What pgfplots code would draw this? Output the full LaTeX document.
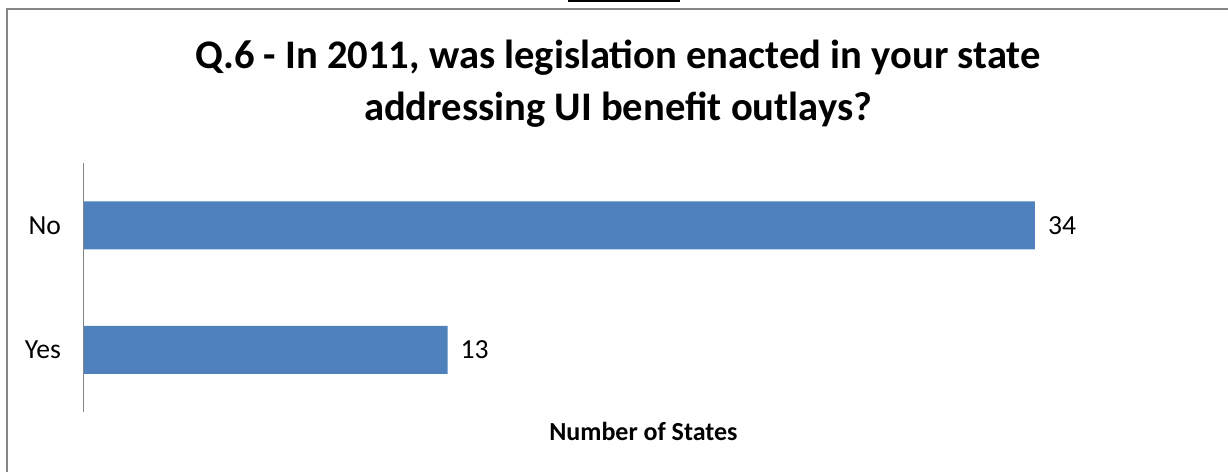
\documentclass[border=0pt]{standalone}
\usepackage{pgfplots}
\pgfplotsset{compat=1.18}
\usepackage{fontspec}
\setmainfont{Carlito}
\definecolor{barblue}{HTML}{4F81BD}
\definecolor{framegray}{HTML}{868686}
\begin{document}
\begin{tikzpicture}
\useasboundingbox (0,0) rectangle (614pt,-236pt);
\fill[black] (284pt,0) rectangle (340pt,-1pt);
\draw[framegray, line width=1pt] (3.5pt,-236pt) -- (3.5pt,-4.5pt) -- (614pt,-4.5pt);
\node[anchor=base, inner sep=0pt, font=\fontsize{20.3}{24}\selectfont\bfseries] at (309pt,-34.2pt) {Q.6 - In 2011, was legislation enacted in your state};
\node[anchor=base, inner sep=0pt, font=\fontsize{20.3}{24}\selectfont\bfseries] at (309pt,-60pt) {addressing UI benefit outlays?};
\begin{axis}[
  at={(42pt,-206pt)}, anchor=south west,
  scale only axis, width=559.4pt, height=124.5pt,
  xmin=0, xmax=40, ymin=-0.5, ymax=1.5,
  xbar, bar width=24pt,
  hide x axis,
  axis y line*=left,
  y axis line style={framegray, line width=0.5pt, -},
  ytick={0,1}, yticklabels={Yes,No},
  major tick length=0pt,
  yticklabel style={font=\fontsize{13.8}{16}\selectfont, xshift=-8pt},
  clip=false,
  point meta=x,
  nodes near coords,
  nodes near coords style={font=\fontsize{13.8}{16}\selectfont, anchor=west, xshift=3pt},
  /pgf/number format/assume math mode=true,
]
\addplot[fill=barblue, draw=none] coordinates {(13,0) (34,1)};
\end{axis}
\node[anchor=base, inner sep=0pt, font=\fontsize{13}{15}\selectfont\bfseries] at (321.7pt,-220pt) {Number of States};
\end{tikzpicture}
\end{document}
